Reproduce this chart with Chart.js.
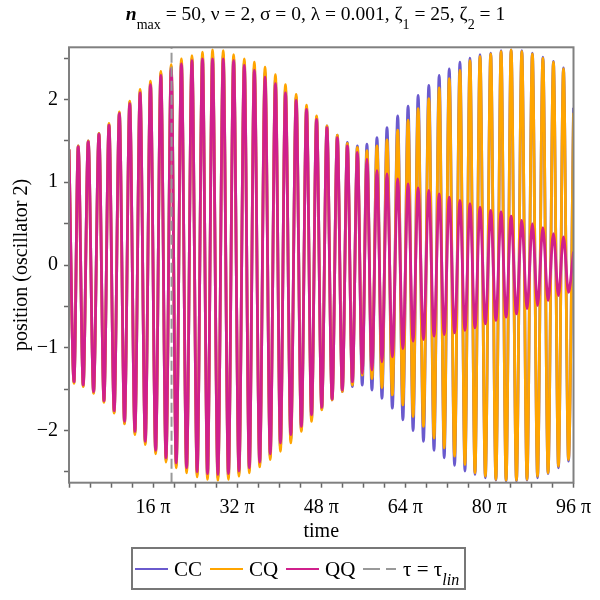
<!DOCTYPE html>
<html>
<head>
<meta charset="utf-8">
<script src="https://cdn.jsdelivr.net/npm/chart.js@4"></script>
<style>
  html, body { margin: 0; padding: 0; background: #fff; overflow: hidden; }
  #wrap { position: relative; width: 600px; height: 600px; font-family: "Liberation Serif", "DejaVu Serif", serif; color: #000; }
  #title { position: absolute; left: 31px; width: 569px; top: 3px; text-align: center; font-size: 19.5px; line-height: 22px; white-space: nowrap; }
  #title sub { font-size: 14px; vertical-align: -9px; line-height: 0; }
  #legend { position: absolute; left: 131px; top: 547px; width: 331px; height: 39px; border: 2px solid #777; }
  .ln { position: absolute; top: 19px; width: 33px; height: 2px; }
  .lt { position: absolute; top: 10px; font-size: 21px; line-height: 21px; white-space: nowrap; }
  .lt sub { font-size: 16px; font-style: italic; vertical-align: -9px; line-height: 0; }
</style>
</head>
<body>
<div id="wrap">
  <canvas id="chart" width="600" height="600"></canvas>
  <div id="title"><b><i>n</i></b><sub>max</sub> = 50, ν = 2, σ = 0, λ = 0.001, ζ<sub>1</sub> = 25, ζ<sub>2</sub> = 1</div>
  <div id="legend">
    <div class="ln" style="left:2px;background:#6A5ACD"></div><div class="lt" style="left:41px">CC</div>
    <div class="ln" style="left:77px;background:#FFA500"></div><div class="lt" style="left:116px">CQ</div>
    <div class="ln" style="left:153px;background:#D0208C"></div><div class="lt" style="left:192px">QQ</div>
    <div class="ln" style="left:230px;background:repeating-linear-gradient(90deg,#999 0 17px,transparent 17px 23px)"></div>
    <div class="lt" style="left:270px">τ = τ<sub>lin</sub></div>
  </div>
</div>
<script>
// times of the oscillation maxima and minima
const peakTime = [0, 5.5, 11.5, 17.9, 23.9, 30.1, 36.3, 42.5, 48.7, 54.9,
  61.1, 67.2, 73.5, 79.8, 85.8, 92.2, 98.4, 104.8, 110.8, 117.2,
  123.4, 129.4, 135.8, 142.0, 148.0, 154.2, 160.4, 166.4, 172.4, 178.1,
  184.1, 190.1, 196.5, 202.7, 208.7, 215.1, 221.3, 227.3, 233.7, 239.7,
  245.7, 252.1, 258.3, 264.3, 270.7, 277.0, 283.3, 289.6, 295.6];
const troughTime = [3.0, 8.5, 14.7, 20.9, 27.0, 33.2, 39.4, 45.6, 51.8, 58.0,
  64.1, 70.3, 76.6, 82.8, 89.0, 95.3, 101.6, 107.8, 114.0, 120.3,
  126.4, 132.6, 138.9, 145.0, 151.1, 157.3, 163.4, 169.4, 175.3, 181.1,
  187.1, 193.3, 199.6, 205.7, 211.9, 218.2, 224.3, 230.5, 236.7, 242.7,
  248.9, 255.2, 261.3, 267.5, 273.8, 280.1, 286.4, 292.6, 298.6];
const endTime = 96 * Math.PI;

// CC
const ccPeak = [1.40, 1.44, 1.50, 1.59, 1.70, 1.84, 1.97, 2.10, 2.20, 2.32,
  2.40, 2.46, 2.50, 2.53, 2.55, 2.54, 2.51, 2.45, 2.40, 2.33,
  2.25, 2.14, 2.03, 1.91, 1.79, 1.68, 1.57, 1.48, 1.44, 1.46,
  1.54, 1.66, 1.80, 1.92, 2.05, 2.17, 2.29, 2.37, 2.45, 2.50,
  2.54, 2.56, 2.59, 2.60, 2.59, 2.56, 2.51, 2.46, 2.38];
const ccTrough = [-1.42, -1.46, -1.54, -1.65, -1.78, -1.91, -2.03, -2.15, -2.26, -2.36,
  -2.42, -2.48, -2.53, -2.56, -2.57, -2.56, -2.52, -2.48, -2.41, -2.32,
  -2.21, -2.11, -1.99, -1.86, -1.74, -1.63, -1.53, -1.47, -1.45, -1.51,
  -1.61, -1.73, -1.87, -2.00, -2.13, -2.24, -2.33, -2.42, -2.49, -2.53,
  -2.57, -2.60, -2.61, -2.61, -2.60, -2.57, -2.52, -2.45, -2.37];
const ccEnd = 1.90;

// CQ
const cqPeak = [1.40, 1.44, 1.50, 1.59, 1.71, 1.85, 1.98, 2.12, 2.22, 2.34,
  2.42, 2.49, 2.53, 2.57, 2.60, 2.59, 2.54, 2.49, 2.45, 2.39,
  2.30, 2.18, 2.06, 1.93, 1.80, 1.68, 1.57, 1.47, 1.42, 1.38,
  1.44, 1.51, 1.63, 1.75, 1.89, 2.01, 2.14, 2.25, 2.35, 2.47,
  2.52, 2.55, 2.58, 2.60, 2.58, 2.55, 2.50, 2.45, 2.37];
const cqTrough = [-1.43, -1.47, -1.55, -1.66, -1.79, -1.92, -2.05, -2.17, -2.28, -2.38,
  -2.45, -2.51, -2.56, -2.59, -2.60, -2.59, -2.55, -2.51, -2.44, -2.35,
  -2.25, -2.15, -2.01, -1.89, -1.75, -1.63, -1.53, -1.45, -1.33, -1.37,
  -1.48, -1.57, -1.69, -1.83, -1.95, -2.09, -2.21, -2.31, -2.41, -2.51,
  -2.55, -2.59, -2.60, -2.60, -2.59, -2.55, -2.51, -2.43, -2.35];
const cqEnd = 1.84;

// QQ
const qqPeak = [1.39, 1.43, 1.49, 1.58, 1.69, 1.83, 1.95, 2.08, 2.18, 2.29,
  2.37, 2.43, 2.47, 2.49, 2.49, 2.49, 2.47, 2.41, 2.35, 2.27,
  2.19, 2.08, 1.99, 1.88, 1.76, 1.66, 1.54, 1.44, 1.36, 1.28,
  1.14, 1.10, 1.04, 0.98, 0.93, 0.90, 0.86, 0.82, 0.78, 0.74,
  0.70, 0.66, 0.64, 0.59, 0.54, 0.50, 0.45, 0.38, 0.34];
const qqTrough = [-1.41, -1.45, -1.53, -1.64, -1.76, -1.89, -2.01, -2.13, -2.24, -2.33,
  -2.39, -2.45, -2.50, -2.52, -2.53, -2.52, -2.49, -2.45, -2.38, -2.28,
  -2.15, -2.05, -1.95, -1.81, -1.72, -1.62, -1.51, -1.41, -1.31, -1.27,
  -1.17, -1.11, -1.01, -0.92, -0.90, -0.86, -0.84, -0.82, -0.79, -0.76,
  -0.71, -0.67, -0.63, -0.59, -0.53, -0.49, -0.43, -0.37, -0.33];
const qqEnd = 0.16;

const tauLin = 61.3;
const yMin = -2.63, yMax = 2.63;

const FONT = '"Liberation Serif", "DejaVu Serif", serif';

// interleave max / min / ... into one point list
function series(peaks, troughs, end) {
  const pts = [];
  peaks.forEach((p, i) => {
    pts.push({ x: peakTime[i], y: p });
    pts.push({ x: troughTime[i], y: troughs[i] });
  });
  pts.push({ x: endTime, y: end });
  return pts;
}

function minus(v) {
  return v < 0 ? '\u2212' + Math.abs(v) : String(v);
}

const frame = {
  id: 'frame',
  afterDatasetsDraw(chart) {
    const { ctx, chartArea: a } = chart;
    ctx.save();
    ctx.strokeStyle = '#808080';
    ctx.lineWidth = 2;
    ctx.strokeRect(a.left, a.top, a.right - a.left, a.bottom - a.top);
    ctx.restore();
  }
};

const lineStyle = { pointRadius: 0, borderWidth: 2.8, cubicInterpolationMode: 'monotone', fill: false };

new Chart(document.getElementById('chart'), {
  type: 'line',
  data: {
    datasets: [
      { label: 'CC', data: series(ccPeak, ccTrough, ccEnd), borderColor: '#6A5ACD', order: 4, ...lineStyle },
      { label: 'CQ', data: series(cqPeak, cqTrough, cqEnd), borderColor: '#FFA500', order: 3, ...lineStyle },
      { label: 'QQ', data: series(qqPeak, qqTrough, qqEnd), borderColor: '#D0208C', order: 2, ...lineStyle },
      { label: 'τ = τlin', data: [{ x: tauLin, y: yMin }, { x: tauLin, y: yMax }],
        borderColor: '#999', borderWidth: 2, borderDash: [10, 4], pointRadius: 0, order: 1 }
    ]
  },
  options: {
    responsive: false,
    animation: false,
    layout: { padding: { left: 0, right: 26.5, top: 47.3, bottom: 47.3 } },
    plugins: { legend: { display: false }, tooltip: { enabled: false } },
    scales: {
      x: {
        type: 'linear',
        min: 0,
        max: 96 * Math.PI,
        afterFit: s => { s.height = 70; },
        border: { display: false },
        grid: { drawOnChartArea: false, tickLength: 5, color: '#666', tickWidth: 1.5 },
        ticks: {
          stepSize: 4 * Math.PI,
          includeBounds: false,
          autoSkip: false,
          maxRotation: 0,
          padding: 8,
          color: '#000',
          font: { family: FONT, size: 20 },
          callback: v => {
            const k = Math.round(v / (4 * Math.PI));
            return k > 0 && k % 4 === 0 ? (4 * k) + ' π' : '';
          }
        },
        title: { display: true, text: 'time', color: '#000', font: { family: FONT, size: 20 }, padding: { top: 0, bottom: 9 } }
      },
      y: {
        min: yMin,
        max: yMax,
        afterFit: s => { s.width = 69; },
        border: { display: false },
        grid: { drawOnChartArea: false, tickLength: 5, color: '#666', tickWidth: 1.5 },
        ticks: {
          stepSize: 0.5,
          includeBounds: false,
          padding: 6,
          color: '#000',
          font: { family: FONT, size: 20 },
          callback: v => Number.isInteger(v) ? minus(v) : ''
        },
        title: { display: true, text: 'position (oscillator 2)', color: '#000', font: { family: FONT, size: 20 }, padding: { top: 10, bottom: 0 } }
      }
    }
  },
  plugins: [frame]
});
</script>
</body>
</html>
